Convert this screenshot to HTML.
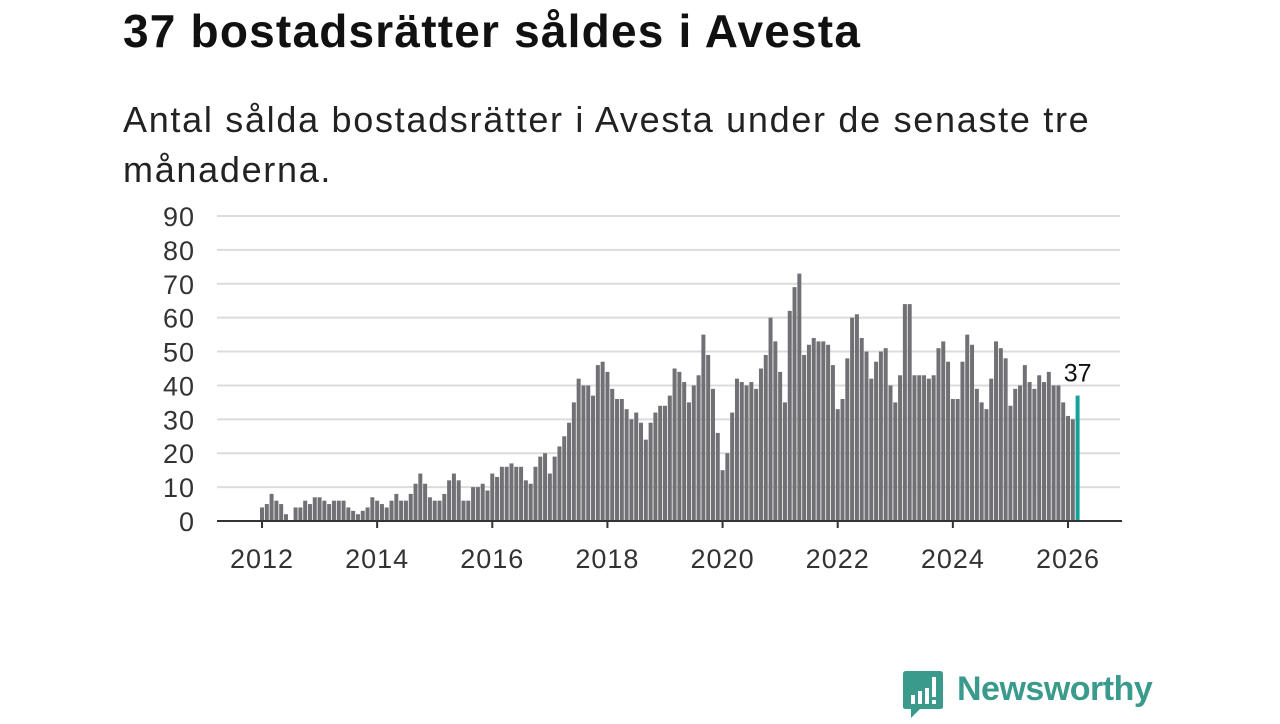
<!DOCTYPE html>
<html><head><meta charset="utf-8"><style>
body{margin:0;background:#fff;width:1280px;height:720px;overflow:hidden;font-family:"Liberation Sans",sans-serif;position:relative}
#title{position:absolute;left:123px;top:4px;font-size:46px;font-weight:bold;color:#111;letter-spacing:1.2px;margin:0}
#sub{position:absolute;left:123px;top:95px;font-size:36px;color:#222;line-height:50px;width:1000px;letter-spacing:1.7px}
svg{position:absolute;left:0;top:0}
</style></head><body>
<h1 id="title">37 bostadsrätter såldes i Avesta</h1>
<div id="sub">Antal sålda bostadsrätter i Avesta under de senaste tre månaderna.</div>
<svg id="chart" width="1280" height="720"></svg>
<script>
const values=[4,5,8,6,5,2,0,4,4,6,5,7,7,6,5,6,6,6,4,3,2,3,4,7,6,5,4,6,8,6,6,8,11,14,11,7,6,6,8,12,14,12,6,6,10,10,11,9,14,13,
16,16,17,16,16,12,11,16,19,20,14,19,22,25,29,35,42,40,40,37,46,47,44,39,36,36,33,30,32,29,24,29,32,34,34,37,45,44,41,35,40,43,55,49,39,26,15,20,
32,42,41,40,41,39,45,49,60,53,44,35,62,69,73,49,52,54,53,53,52,46,33,36,48,60,61,54,50,42,47,50,51,40,35,43,64,64,
43,43,43,42,43,51,53,47,36,36,47,55,52,39,35,33,42,53,51,48,34,39,40,46,41,39,43,41,44,40,40,35,31,30,37];
const startYear=2012;
const yTicks=[0,10,20,30,40,50,60,70,80,90];
const xTicks=[2012,2014,2016,2018,2020,2022,2024,2026];
const NS='http://www.w3.org/2000/svg';
const svg=document.getElementById('chart');
const y=v=>521-v*(305/90);
const x=t=>262+(t-2012)*(806/14);
function mk(tag,attrs,parent){const e=document.createElementNS(NS,tag);for(const k in attrs)e.setAttribute(k,attrs[k]);(parent||svg).appendChild(e);return e;}
yTicks.forEach(v=>{
 if(v>0){const g=mk('line',{x1:217,x2:1120,y1:y(v),y2:y(v),stroke:'#dcdcdc','stroke-width':2});
 
 }
 const t=mk('text',{x:195,y:y(v)+10,'text-anchor':'end','font-size':27,'letter-spacing':1,fill:'#333','font-family':'Liberation Sans, sans-serif'});
 t.textContent=v;
 
 
});
values.forEach((v,i)=>{
 const cx=x(startYear+i/12);
 const last=i===values.length-1;
 const r=mk('rect',{x:cx-2,y:y(v),width:4,height:y(0)-y(v),fill:last?'#14a39a':'#717075'});
 
 
 if(last){const t=mk('text',{x:cx,y:y(v)-14,'text-anchor':'middle','font-size':25,fill:'#111','font-family':'Liberation Sans, sans-serif'});
 t.textContent=v;
 
 }
});
const ax=mk('line',{x1:217,x2:1122,y1:521,y2:521,stroke:'#333','stroke-width':2});


xTicks.forEach(yr=>{
 const tk=mk('line',{x1:x(yr),x2:x(yr),y1:521,y2:528,stroke:'#333','stroke-width':2});
 
 
 const t=mk('text',{x:x(yr),y:568,'text-anchor':'middle','font-size':27,'letter-spacing':1,fill:'#333','font-family':'Liberation Sans, sans-serif'});
 t.textContent=yr;
 
 
});
</script>
<div style="position:absolute;left:903px;top:671px;">
<svg width="40" height="48" style="position:static"><path d="M3 0H37Q40 0 40 3V36Q40 38 37 38H17L8 47V38H3Q0 38 0 36V3Q0 0 3 0Z" fill="#3a9a8c"/><rect x="8" y="24" width="4" height="9" fill="#fff"/><rect x="15" y="20" width="4" height="13" fill="#fff"/><rect x="22" y="17" width="4" height="16" fill="#fff"/><rect x="29" y="6" width="4" height="20" fill="#fff"/><rect x="29" y="29" width="4" height="4" fill="#fff"/></svg>
</div>
<div style="position:absolute;left:957px;top:670px;font-size:34px;font-weight:bold;color:#3a9a8c;font-family:'Liberation Sans',sans-serif;letter-spacing:-0.5px">Newsworthy</div>
</body></html>
